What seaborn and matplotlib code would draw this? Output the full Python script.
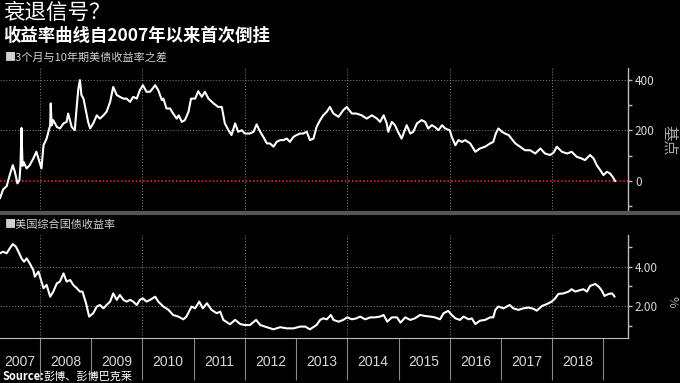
import numpy as np
import pandas as pd
import matplotlib
matplotlib.use("Agg")
import matplotlib.pyplot as plt
from matplotlib.lines import Line2D
from matplotlib import font_manager
import seaborn as sns

# 3-month vs 10-year Treasury spread (bp), decimal-year x
spread_t = [2007.22, 2007.28, 2007.35, 2007.41, 2007.47, 2007.51, 2007.56, 2007.60, 2007.62, 2007.64,
            2007.66, 2007.68, 2007.74, 2007.80, 2007.87, 2007.93, 2007.99, 2008.03, 2008.07, 2008.13,
            2008.20, 2008.21, 2008.23, 2008.26, 2008.33, 2008.39, 2008.46, 2008.52, 2008.55, 2008.62,
            2008.68, 2008.72, 2008.75, 2008.78, 2008.81, 2008.85, 2008.90, 2008.94, 2008.98, 2009.04,
            2009.11, 2009.17, 2009.24, 2009.30, 2009.37, 2009.43, 2009.50, 2009.56, 2009.63, 2009.69,
            2009.76, 2009.82, 2009.89, 2009.95, 2010.01, 2010.08, 2010.15, 2010.25, 2010.31, 2010.38,
            2010.41, 2010.47, 2010.54, 2010.60, 2010.67, 2010.71, 2010.77, 2010.83, 2010.90, 2010.95,
            2011.03, 2011.09, 2011.16, 2011.22, 2011.29, 2011.39, 2011.48, 2011.55, 2011.61, 2011.68,
            2011.74, 2011.81, 2011.87, 2011.94, 2012.00, 2012.10, 2012.17, 2012.23, 2012.30, 2012.36,
            2012.43, 2012.49, 2012.56, 2012.62, 2012.69, 2012.75, 2012.82, 2012.88, 2012.95, 2013.01,
            2013.08, 2013.14, 2013.21, 2013.27, 2013.34, 2013.40, 2013.47, 2013.53, 2013.60, 2013.66,
            2013.73, 2013.83, 2013.92, 2013.99, 2014.09, 2014.18, 2014.28, 2014.38, 2014.48, 2014.58,
            2014.64, 2014.71, 2014.77, 2014.80, 2014.87, 2014.93, 2014.99, 2015.06, 2015.16, 2015.23,
            2015.29, 2015.36, 2015.45, 2015.52, 2015.58, 2015.65, 2015.71, 2015.78, 2015.85, 2015.91,
            2016.00, 2016.04, 2016.11, 2016.17, 2016.24, 2016.30, 2016.40, 2016.50, 2016.59, 2016.69,
            2016.79, 2016.85, 2016.90, 2016.95, 2017.02, 2017.08, 2017.15, 2017.28, 2017.37, 2017.47,
            2017.57, 2017.67, 2017.77, 2017.86, 2017.96, 2018.03, 2018.09, 2018.19, 2018.29, 2018.38,
            2018.48, 2018.58, 2018.64, 2018.74, 2018.81, 2018.87, 2018.94, 2019.00, 2019.07, 2019.13,
            2019.18, 2019.23]
spread_bp = [-68, -33, -20, 24, 63, 37, -9, 4, 63, 210,
             60, 76, 50, 63, 89, 116, 76, 50, 142, 168,
             221, 307, 220, 241, 214, 208, 228, 234, 267, 214,
             201, 300, 366, 399, 340, 326, 274, 234, 208, 228,
             260, 247, 260, 274, 313, 372, 340, 333, 326, 326,
             313, 333, 326, 359, 379, 353, 353, 379, 359, 320,
             326, 287, 287, 267, 247, 260, 234, 241, 274, 326,
             326, 355, 333, 353, 326, 307, 293, 293, 228, 201,
             182, 228, 195, 201, 188, 188, 195, 224, 195, 175,
             149, 149, 136, 155, 162, 162, 168, 155, 175, 182,
             188, 188, 195, 162, 168, 214, 241, 260, 274, 293,
             267, 254, 280, 293, 267, 267, 260, 247, 260, 247,
             234, 260, 228, 195, 234, 221, 195, 168, 221, 188,
             195, 228, 241, 234, 208, 221, 214, 201, 221, 208,
             201, 175, 142, 162, 155, 162, 149, 116, 129, 136,
             149, 155, 188, 208, 195, 188, 182, 149, 136, 122,
             122, 109, 129, 109, 103, 113, 136, 116, 109, 116,
             96, 89, 83, 103, 89, 63, 43, 24, 37, 30,
             17, 0]

# US aggregate Treasury yield (%)
yield_t = [2007.22, 2007.28, 2007.35, 2007.41, 2007.47, 2007.53, 2007.58, 2007.64, 2007.69, 2007.74,
           2007.80, 2007.87, 2007.90, 2007.97, 2008.00, 2008.07, 2008.13, 2008.20, 2008.26, 2008.33,
           2008.39, 2008.46, 2008.52, 2008.59, 2008.65, 2008.72, 2008.78, 2008.83, 2008.90, 2008.96,
           2009.04, 2009.11, 2009.17, 2009.24, 2009.30, 2009.37, 2009.43, 2009.50, 2009.56, 2009.63,
           2009.69, 2009.76, 2009.82, 2009.89, 2009.95, 2010.01, 2010.08, 2010.15, 2010.25, 2010.31,
           2010.41, 2010.51, 2010.60, 2010.70, 2010.80, 2010.86, 2010.96, 2011.03, 2011.11, 2011.18,
           2011.26, 2011.35, 2011.45, 2011.52, 2011.58, 2011.71, 2011.81, 2011.91, 2012.00, 2012.10,
           2012.22, 2012.30, 2012.43, 2012.56, 2012.69, 2012.82, 2012.95, 2013.08, 2013.18, 2013.27,
           2013.40, 2013.47, 2013.53, 2013.60, 2013.68, 2013.73, 2013.83, 2013.92, 2014.00, 2014.09,
           2014.18, 2014.25, 2014.35, 2014.45, 2014.54, 2014.64, 2014.71, 2014.78, 2014.87, 2014.97,
           2015.04, 2015.13, 2015.23, 2015.32, 2015.42, 2015.52, 2015.62, 2015.71, 2015.81, 2015.88,
           2015.97, 2016.04, 2016.11, 2016.20, 2016.27, 2016.37, 2016.43, 2016.50, 2016.59, 2016.69,
           2016.79, 2016.85, 2016.89, 2016.95, 2017.05, 2017.17, 2017.24, 2017.34, 2017.44, 2017.54,
           2017.64, 2017.70, 2017.80, 2017.90, 2017.99, 2018.06, 2018.12, 2018.22, 2018.32, 2018.38,
           2018.45, 2018.55, 2018.61, 2018.68, 2018.74, 2018.84, 2018.91, 2018.97, 2019.02, 2019.10,
           2019.17, 2019.22]
yield_pct = [4.68, 4.76, 4.68, 4.93, 5.15, 5.02, 4.76, 4.42, 4.25, 4.42,
             4.17, 3.83, 3.49, 3.75, 3.49, 2.90, 3.07, 2.47, 2.73, 3.15,
             3.24, 3.66, 3.24, 3.32, 3.07, 2.90, 2.73, 2.73, 2.14, 1.46,
             1.63, 1.97, 2.05, 1.88, 2.05, 2.22, 2.64, 2.31, 2.56, 2.31,
             2.22, 2.31, 2.22, 2.05, 2.31, 2.39, 2.22, 2.31, 2.47, 2.22,
             1.97, 1.80, 1.54, 1.46, 1.32, 1.46, 1.97, 1.88, 2.22, 1.88,
             2.14, 1.80, 1.63, 1.71, 1.29, 1.07, 1.29, 1.08, 1.03, 1.03,
             1.29, 1.03, 0.92, 0.81, 0.92, 0.86, 0.86, 0.95, 0.95, 0.81,
             1.03, 1.29, 1.37, 1.32, 1.54, 1.29, 1.20, 1.29, 1.42, 1.32,
             1.37, 1.46, 1.32, 1.42, 1.42, 1.46, 1.54, 1.20, 1.42, 1.42,
             1.15, 1.42, 1.29, 1.37, 1.54, 1.49, 1.46, 1.42, 1.32, 1.63,
             1.75, 1.54, 1.37, 1.29, 1.46, 1.32, 1.37, 1.08, 1.25, 1.29,
             1.42, 1.42, 1.80, 1.97, 1.88, 2.05, 1.88, 1.80, 1.88, 1.92,
             1.85, 1.76, 2.00, 2.10, 2.22, 2.39, 2.61, 2.64, 2.73, 2.85,
             2.73, 2.81, 2.85, 2.73, 3.02, 3.12, 2.98, 2.78, 2.51, 2.61,
             2.64, 2.47]

years = list(range(2007, 2019))
year_labels = [str(y) for y in years]

spread_df = pd.DataFrame({"t": spread_t, "v": spread_bp})
yield_df = pd.DataFrame({"t": yield_t, "v": yield_pct})

sns.set_style("dark", {"axes.facecolor": "black", "figure.facecolor": "black",
                       "xtick.bottom": True, "ytick.right": True})
cjk = ["Noto Sans CJK SC", "DejaVu Sans"]
plt.rcParams["font.family"] = cjk
narrow = "Liberation Sans Narrow"
if not any(f.name == narrow for f in font_manager.fontManager.ttflist):
    narrow = "Liberation Sans"

fig = plt.figure(figsize=(6.8, 3.83), dpi=100, facecolor="black")
ax1 = fig.add_axes([0, 0.4465, 0.9235, 0.376])
ax2 = fig.add_axes([0, 0.1175, 0.9235, 0.2689])

xlim = (2007.22, 2019.48)
grid_c = "#8a8a8a"
tick_c = "#d8d8d8"

sns.lineplot(data=spread_df, x="t", y="v", ax=ax1, color="white", lw=1.5)
sns.lineplot(data=yield_df, x="t", y="v", ax=ax2, color="white", lw=1.5)

ax1.axhline(0, color="#e8202a", lw=1.2, ls=(0, (1, 1.2)), zorder=1)

for ax, lim, major, minor, fmt in [
        (ax1, (-122, 447), [0, 200, 400], [-100, 100, 300], "{:.0f}"),
        (ax2, (0.37, 5.61), [2, 4], [1, 3, 5], "{:.2f}")]:
    ax.set_facecolor("black")
    ax.set_xlim(*xlim)
    ax.set_ylim(*lim)
    ax.set_xlabel("")
    ax.set_ylabel("")
    for s in ["left", "top", "bottom"]:
        ax.spines[s].set_visible(False)
    ax.spines["right"].set_visible(True)
    ax.spines["right"].set_color("#bbbbbb")
    ax.spines["right"].set_linewidth(1)
    ax.yaxis.tick_right()
    ax.set_yticks(major)
    ax.set_yticklabels([fmt.format(m) for m in major])
    ax.set_yticks(minor, minor=True)
    ax.tick_params(axis="y", which="both", colors="#bbbbbb", labelcolor=tick_c,
                   labelsize=8.5, length=3, width=1, pad=2, direction="out", right=True)
    for m in major:
        if m != 0:
            ax.axhline(m, color=grid_c, lw=0.7, ls=(0, (1, 2)), zorder=0)
    for yb in range(2008, 2019, 2):
        ax.axvline(yb, color=grid_c, lw=0.7, ls=(0, (1, 2)), zorder=0)
    ax.grid(False)

ax1.set_xticks([])

# bottom axis: year boundaries as long ticks, labels centred in each year
ax2.spines["bottom"].set_visible(True)
ax2.spines["bottom"].set_color("#bbbbbb")
ax2.set_xticks(range(2008, 2020))
ax2.set_xticklabels([])
ax2.tick_params(axis="x", which="major", bottom=True, length=30, width=0.8,
                colors="#888888", direction="out")
label_pos = [(xlim[0] + 2008) / 2 if y == 2007 else y + 0.5 for y in years]
ax2.set_xticks(label_pos, minor=True)
ax2.set_xticklabels(year_labels, minor=True, fontsize=10, color=tick_c, family=narrow)
ax2.tick_params(axis="x", which="minor", bottom=True, length=0, pad=12)

# unit labels on the right
fig.text(669 / 680, 1 - 140 / 383, "基点", rotation=270, color="#aaaaaa", fontsize=11,
         ha="center", va="center")
fig.text(672 / 680, 1 - 302 / 383, "%", rotation=270, color="#aaaaaa", fontsize=9,
         ha="center", va="center")

# separator between panels
fig.add_artist(Line2D([0, 1], [1 - 213 / 383] * 2, transform=fig.transFigure,
                      color="#555555", lw=3))

fig.text(0.004, 1 - 13 / 383, "衰退信号？", color="white", fontsize=15.5, va="center")
fig.text(0.004, 1 - 35.5 / 383, "收益率曲线自2007年以来首次倒挂", color="white",
         fontsize=12.5, fontweight="bold", va="center")
fig.text(0.007, 1 - 58 / 383, "■3个月与10年期美债收益率之差", color="#d0d0d0", fontsize=8, va="center")
fig.text(0.007, 1 - 225 / 383, "■美国综合国债收益率", color="#d0d0d0", fontsize=8, va="center")
fig.text(0.004, 1 - 377 / 383, "Source:", color="white", fontsize=8, fontweight="bold", va="center")
fig.text(0.064, 1 - 377 / 383, "彭博、彭博巴克莱", color="white", fontsize=8, va="center")

fig.savefig("out.png", dpi=100, facecolor="black")
